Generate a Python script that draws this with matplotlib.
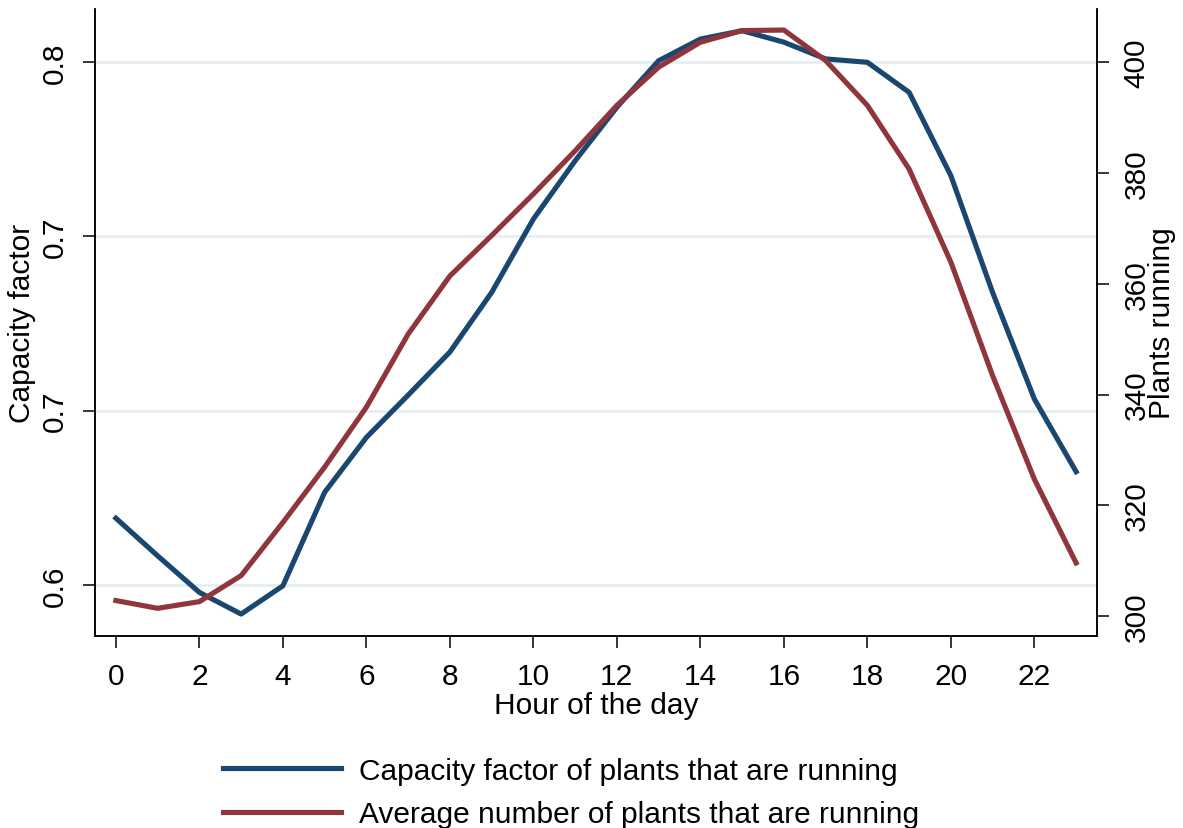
import matplotlib
matplotlib.use("Agg")
import matplotlib.pyplot as plt
from matplotlib.ticker import FormatStrFormatter

plt.rcParams['font.family'] = ['Liberation Sans', 'DejaVu Sans']

# Hourly averages
hours = list(range(24))
cap_factor = [0.6255, 0.6111, 0.5971, 0.5888, 0.5996, 0.6354, 0.6564, 0.6726,
              0.6891, 0.7119, 0.7400, 0.7623, 0.7828, 0.8006, 0.8089, 0.8121,
              0.8077, 0.8013, 0.8000, 0.7885, 0.7566, 0.7119, 0.6711, 0.6433]
plants_running = [302.8, 301.4, 302.6, 307.3, 316.9, 326.9, 337.7, 350.9,
                  361.4, 368.7, 376.2, 384.0, 392.2, 399.1, 403.6, 405.7,
                  405.8, 400.3, 392.2, 380.7, 363.9, 343.4, 324.7, 309.6]

x_ticks = list(range(0, 23, 2))
left_ticks = [0.6, 0.6 + 0.2 / 3, 0.6 + 0.4 / 3, 0.8]
right_ticks = [300, 320, 340, 360, 380, 400]

labels = ["Capacity factor of plants that are running",
          "Average number of plants that are running"]

navy = "#1a476f"
maroon = "#90353b"
grid_col = "#e6eff1"

W, H = 1183, 829
fig = plt.figure(figsize=(W / 100, H / 100), dpi=100)
ax = fig.add_axes([95 / W, 1 - 637 / H, (1097 - 95) / W, (637 - 10) / H])
ax2 = ax.twinx()

l1, = ax.plot(hours, cap_factor, color=navy, lw=3.7, label=labels[0])
l2, = ax2.plot(hours, plants_running, color=maroon, lw=3.7, label=labels[1])

ax.set_xlim(-0.5, 23.5)
ax.set_ylim(0.5804, 0.8204)
ax2.set_ylim(296.4, 409.6)

ax.set_xticks(x_ticks)
ax.set_yticks(left_ticks)
ax.yaxis.set_major_formatter(FormatStrFormatter('%.1f'))
ax2.set_yticks(right_ticks)

ax.yaxis.grid(True, color=grid_col, lw=2.0)
ax.set_axisbelow(True)

for a in (ax, ax2):
    a.spines['top'].set_visible(False)
    for s in ('left', 'right', 'bottom'):
        a.spines[s].set_linewidth(1.1)
        a.spines[s].set_color('black')
    a.tick_params(length=8.5, width=1.1, labelsize=21.5, pad=10)

for t in ax.get_yticklabels():
    t.set_rotation(90)
    t.set_va('center')
for t in ax2.get_yticklabels():
    t.set_rotation(90)
    t.set_va('center')

ax.set_xlabel("Hour of the day", fontsize=21.5)
ax.xaxis.set_label_coords(0.5, -0.088)
ax.set_ylabel("Capacity factor", fontsize=21.5, va='center')
ax.yaxis.set_label_coords(-0.073, 0.5)
ax2.set_ylabel("Plants running", fontsize=21.5, va='center', rotation=90)
ax2.yaxis.set_label_coords(1.065, 0.5)

fig.legend(handles=[l1, l2], loc='center', bbox_to_anchor=(0.483, 0.043),
           frameon=False, fontsize=21.5, handlelength=3.95, handletextpad=0.6,
           labelspacing=0.52, borderpad=0)

fig.savefig("out.png", dpi=100)
